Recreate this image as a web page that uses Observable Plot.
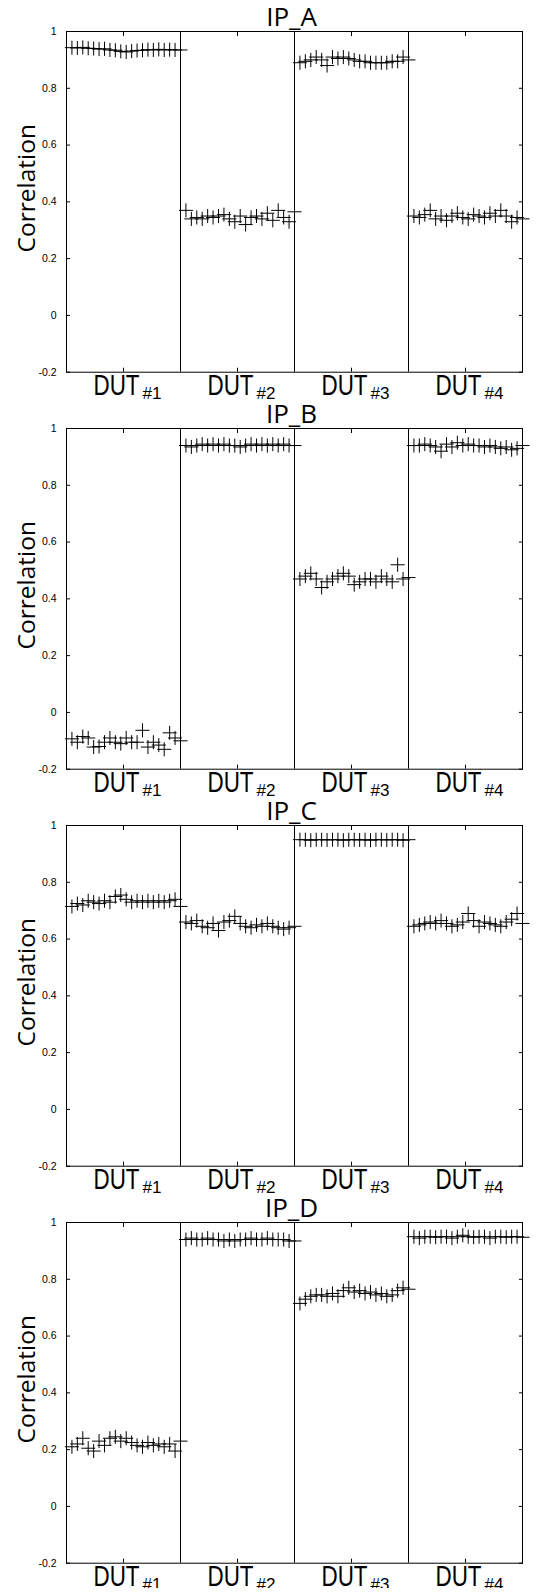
<!DOCTYPE html>
<html><head><meta charset="utf-8">
<script src="https://cdn.jsdelivr.net/npm/d3@7"></script>
<script src="https://cdn.jsdelivr.net/npm/@observablehq/plot@0.6"></script>
<style>
body{margin:0;background:#fff}
#charts svg{display:block}
</style>
</head><body><div id="charts"></div>
<script>
const ipNames = ["IP_A","IP_B","IP_C","IP_D"];
const dutLabels = ["#1","#2","#3","#4"];
const yTicks = [-0.2,0,0.2,0.4,0.6,0.8,1];

const ipA_dut1 = [0.943,0.942,0.944,0.941,0.940,0.938,0.939,0.935,0.934,0.930,0.928,0.931,0.933,0.934,0.936,0.935,0.937,0.935,0.936,0.935,0.935];
const ipA_dut2 = [0.37,0.34,0.345,0.34,0.35,0.345,0.35,0.355,0.34,0.33,0.35,0.32,0.345,0.35,0.34,0.36,0.335,0.37,0.345,0.33,0.365];
const ipA_dut3 = [0.89,0.895,0.90,0.91,0.90,0.88,0.91,0.905,0.91,0.905,0.90,0.895,0.895,0.89,0.89,0.89,0.89,0.895,0.895,0.91,0.90];
const ipA_dut4 = [0.35,0.345,0.355,0.37,0.34,0.35,0.335,0.35,0.36,0.345,0.34,0.355,0.35,0.345,0.36,0.35,0.37,0.35,0.33,0.345,0.34];

const ipB_dut1 = [-0.093,-0.105,-0.085,-0.09,-0.122,-0.12,-0.105,-0.09,-0.105,-0.11,-0.09,-0.105,-0.105,-0.063,-0.122,-0.105,-0.115,-0.13,-0.072,-0.09,-0.1];
const ipB_dut2 = [0.94,0.935,0.94,0.945,0.94,0.945,0.94,0.945,0.94,0.94,0.935,0.94,0.945,0.94,0.945,0.94,0.945,0.94,0.945,0.94,0.94];
const ipB_dut3 = [0.47,0.48,0.49,0.47,0.44,0.46,0.47,0.48,0.49,0.48,0.45,0.46,0.47,0.47,0.46,0.48,0.47,0.46,0.52,0.47,0.475];
const ipB_dut4 = [0.94,0.94,0.945,0.94,0.935,0.92,0.945,0.935,0.95,0.94,0.945,0.94,0.94,0.935,0.94,0.935,0.93,0.935,0.925,0.93,0.94];

const ipC_dut1 = [0.715,0.725,0.72,0.735,0.73,0.725,0.735,0.73,0.75,0.755,0.74,0.73,0.735,0.73,0.735,0.73,0.735,0.73,0.735,0.74,0.715];
const ipC_dut2 = [0.66,0.655,0.665,0.645,0.64,0.655,0.63,0.66,0.665,0.68,0.655,0.645,0.64,0.65,0.645,0.655,0.645,0.64,0.635,0.64,0.645];
const ipC_dut3 = [0.95,0.95,0.948,0.95,0.95,0.949,0.95,0.95,0.948,0.95,0.95,0.949,0.95,0.948,0.95,0.95,0.949,0.95,0.95,0.948,0.95];
const ipC_dut4 = [0.645,0.65,0.655,0.66,0.655,0.665,0.655,0.645,0.65,0.66,0.69,0.665,0.645,0.66,0.655,0.65,0.645,0.66,0.67,0.69,0.655];

const ipD_dut1 = [0.21,0.22,0.24,0.205,0.195,0.23,0.215,0.24,0.245,0.23,0.24,0.225,0.215,0.21,0.225,0.215,0.22,0.21,0.22,0.195,0.23];
const ipD_dut2 = [0.94,0.945,0.94,0.94,0.945,0.94,0.94,0.935,0.94,0.935,0.94,0.94,0.945,0.94,0.94,0.945,0.94,0.94,0.94,0.935,0.935];
const ipD_dut3 = [0.715,0.73,0.74,0.745,0.745,0.74,0.75,0.74,0.76,0.77,0.755,0.76,0.75,0.755,0.745,0.75,0.74,0.745,0.76,0.77,0.765];
const ipD_dut4 = [0.95,0.945,0.95,0.95,0.948,0.95,0.95,0.945,0.95,0.955,0.95,0.948,0.95,0.95,0.945,0.95,0.95,0.948,0.95,0.95,0.948];

const panels = [
  [ipA_dut1, ipA_dut2, ipA_dut3, ipA_dut4],
  [ipB_dut1, ipB_dut2, ipB_dut3, ipB_dut4],
  [ipC_dut1, ipC_dut2, ipC_dut3, ipC_dut4],
  [ipD_dut1, ipD_dut2, ipD_dut3, ipD_dut4]
];

const N = 21; // traces per DUT
const segEdges = [N, 2 * N, 3 * N];
const segCenters = dutLabels.map((d, k) => k * N + N / 2);
const labelData = dutLabels.map((d, k) => ({x: k * N + N / 2, sub: d}));

function makePanel(title, series) {
  const pts = [];
  series.forEach((vals, k) => vals.forEach((v, i) => pts.push({x: k * N + i + 1, y: v})));
  const svg = Plot.plot({
    width: 536,
    height: 397,
    marginLeft: 66,
    marginRight: 14,
    marginTop: 31,
    marginBottom: 25.3,
    style: {background: "white", overflow: "visible"},
    x: {domain: [0, 4 * N], axis: null},
    y: {domain: [-0.2, 1], axis: null},
    marks: [
      Plot.frame({stroke: "black", strokeWidth: 1}),
      Plot.ruleX(segEdges, {stroke: "black", strokeWidth: 1}),
      Plot.axisY({anchor: "left", ticks: yTicks, tickSize: 4, dx: 4, tickPadding: 10,
        tickFormat: d => String(d), fontSize: 10.5, fontFamily: "Liberation Sans, Arial, sans-serif", label: null}),
      Plot.axisY({anchor: "right", ticks: yTicks, tickSize: 4, dx: -4, tickFormat: () => "", label: null}),
      Plot.axisX({anchor: "top", ticks: segCenters, tickSize: 4, dy: 4, tickFormat: () => "", label: null}),
      Plot.axisX({anchor: "bottom", ticks: segCenters, tickSize: 4, dy: -4, tickFormat: () => "", label: null}),
      Plot.dot(pts, {x: "x", y: "y", symbol: "plus", r: 4.6, stroke: "black", strokeWidth: 1, clip: false}),
      Plot.text([title], {frameAnchor: "top", lineAnchor: "bottom", dx: -3, dy: -6, fontSize: 26,
        fontFamily: "Open Sans, sans-serif", fill: "black"}),
      Plot.text(["Correlation"], {frameAnchor: "left", rotate: -90, fontSize: 24.5,
        fontFamily: "Open Sans, sans-serif", fill: "black"}),
      Plot.text(labelData, {x: "x", text: () => "DUT", frameAnchor: "bottom", textAnchor: "end",
        lineAnchor: "bottom", dx: 16, dy: 23, fontSize: 29.5, fontFamily: "Liberation Sans, Arial, sans-serif", fill: "black"}),
      Plot.text(labelData, {x: "x", text: "sub", frameAnchor: "bottom", textAnchor: "start",
        lineAnchor: "bottom", dx: 19, dy: 27, fontSize: 17, fontFamily: "Liberation Sans, Arial, sans-serif", fill: "black"})
    ]
  });
  // condense the DUT labels like the reference's narrow face
  d3.select(svg).selectAll("text").filter(function() { return this.textContent === "DUT"; })
    .attr("textLength", 46).attr("lengthAdjust", "spacingAndGlyphs");
  d3.select(svg).selectAll("text").filter(function() { return /^#\d$/.test(this.textContent); })
    .attr("textLength", 19).attr("lengthAdjust", "spacingAndGlyphs");
  return svg;
}

// place the rotated y-axis title like the reference (top of text near y=124, centred near x=25)
function placeYTitle(svg) {
  const t = Array.from(svg.querySelectorAll("text")).find(e => e.textContent === "Correlation");
  if (!t) return;
  const sr = svg.getBoundingClientRect();
  const r = t.getBoundingClientRect();
  const ddy = 124 - (r.top - sr.top);
  const ddx = 25 - ((r.left + r.right) / 2 - sr.left);
  t.setAttribute("transform", `translate(${ddx},${ddy}) ` + (t.getAttribute("transform") || ""));
}

const root = document.getElementById("charts");
ipNames.forEach((name, i) => {
  const svg = makePanel(name, panels[i]);
  root.appendChild(svg);
  placeYTitle(svg);
});
</script>
</body></html>
